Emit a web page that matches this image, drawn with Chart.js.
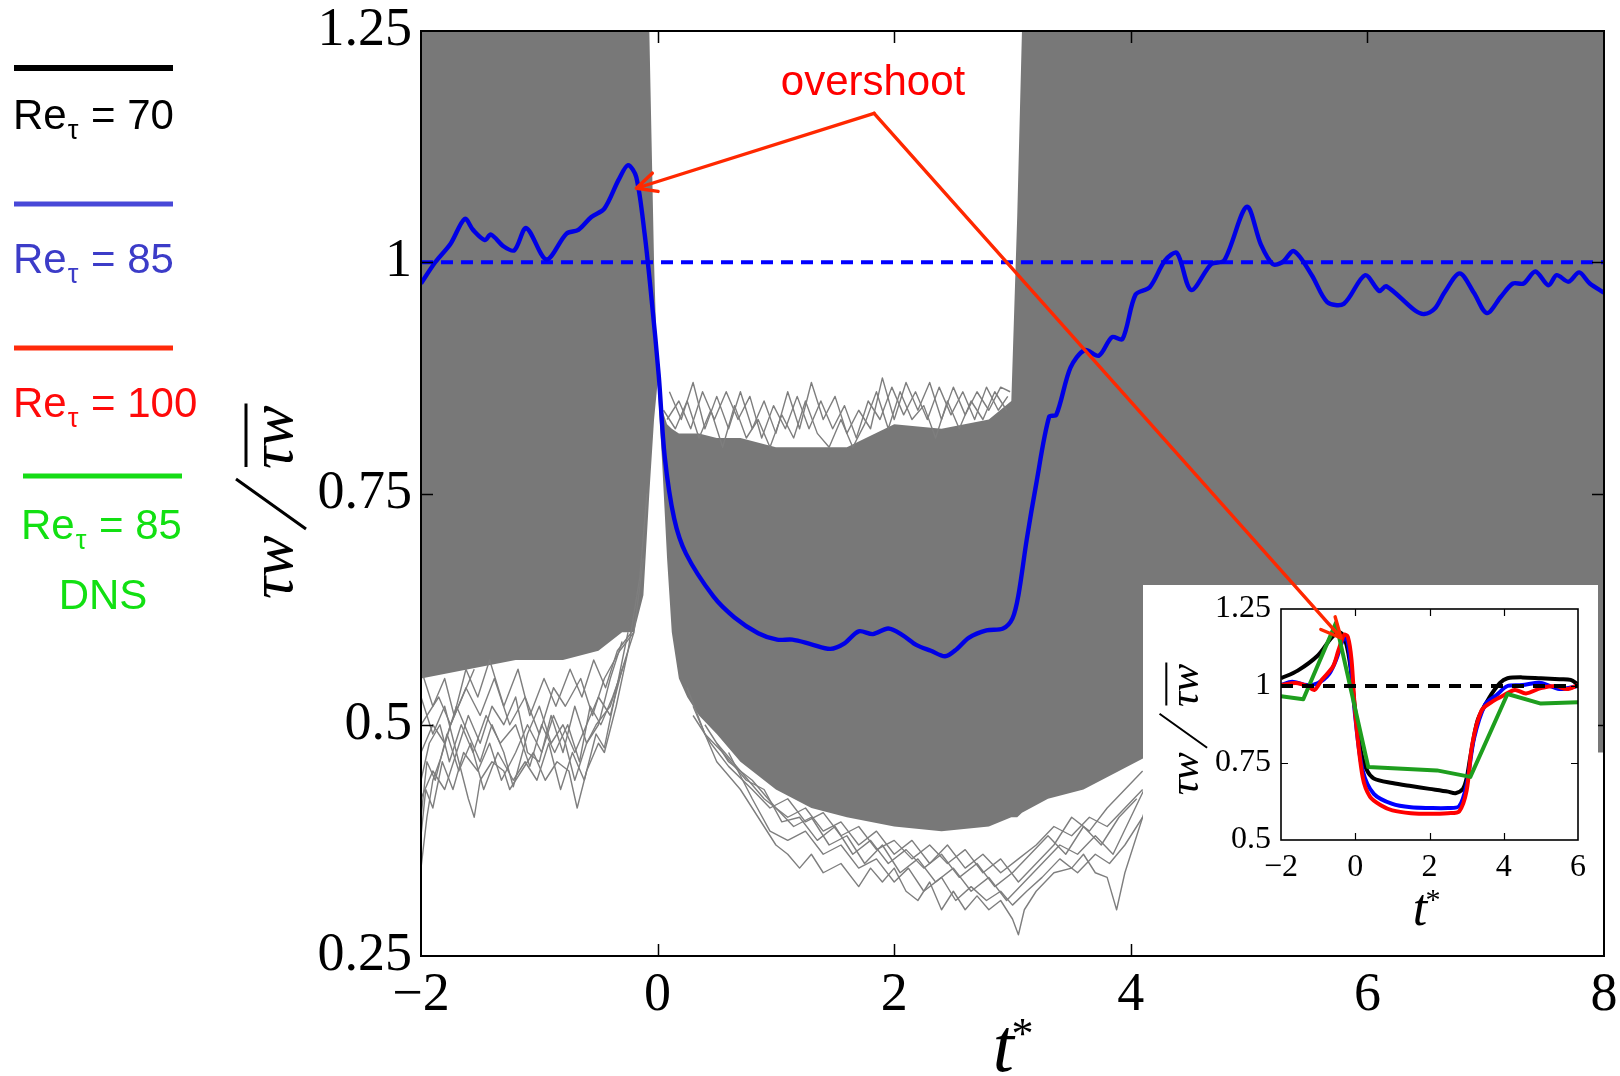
<!DOCTYPE html>
<html>
<head>
<meta charset="utf-8">
<script src="https://cdn.jsdelivr.net/npm/chart.js@4.4.1/dist/chart.umd.min.js"></script>
<style>
  body { margin: 0; background: #fff; }
  #wrap { position: relative; width: 1620px; height: 1076px; overflow: hidden; }
  #main, #notes { position: absolute; left: 0; top: 0; }
  #notes { pointer-events: none; }
  #insetBox { position: absolute; left: 1143px; top: 585px; width: 455px; height: 370px; background: #fff; }
</style>
</head>
<body>
<div id="wrap">
  <canvas id="main" width="1620" height="1076"></canvas>
  <div id="insetBox"><canvas id="inset" width="455" height="370"></canvas></div>
  <canvas id="notes" width="1620" height="1076"></canvas>
</div>
<script>
// ---- ensemble of realisations (gray): dense band envelope ----
const bandT  = [-2, -1.6, -1.2, -0.8, -0.5, -0.3, -0.2, -0.12, -0.07, -0.03, 0, 0.04, 0.08, 0.12, 0.18, 0.25, 0.35, 0.5, 0.7, 1.0, 1.3, 1.6, 2.0, 2.4, 2.8, 2.99, 3.04, 3.08, 3.3, 3.6, 3.9, 4.2, 5, 6, 7, 8];
const bandHi = [1.25, 1.25, 1.25, 1.25, 1.25, 1.25, 1.25, 1.25, 1.25, 1.0, 0.87, 0.84, 0.825, 0.82, 0.815, 0.815, 0.815, 0.81, 0.81, 0.80, 0.80, 0.80, 0.825, 0.82, 0.83, 0.85, 1.05, 1.25, 1.25, 1.25, 1.25, 1.25, 1.25, 1.25, 1.25, 1.25];
const bandLo = [0.55, 0.56, 0.57, 0.57, 0.58, 0.6, 0.6, 0.64, 0.75, 0.83, 0.87, 0.78, 0.68, 0.6, 0.55, 0.53, 0.51, 0.49, 0.46, 0.43, 0.41, 0.40, 0.39, 0.385, 0.39, 0.40, 0.40, 0.405, 0.42, 0.43, 0.45, 0.47, 0.47, 0.47, 0.47, 0.47];

// individual realisations poking out of the band
const fringeLeft = [
  [[-2, 0.345], [-1.95, 0.4], [-1.9, 0.44], [-1.83, 0.465], [-1.75, 0.5], [-1.65, 0.53], [-1.55, 0.56]],
  [[-2, 0.42], [-1.9, 0.45], [-1.8, 0.43], [-1.7, 0.47], [-1.6, 0.42], [-1.55, 0.40], [-1.5, 0.44], [-1.4, 0.46], [-1.3, 0.45], [-1.25, 0.43], [-1.15, 0.45], [-1.05, 0.47], [-0.95, 0.44], [-0.85, 0.46], [-0.75, 0.45], [-0.68, 0.41], [-0.6, 0.45], [-0.5, 0.48], [-0.45, 0.47], [-0.35, 0.52], [-0.25, 0.58], [-0.15, 0.66], [-0.09, 0.75]],
  [[-2, 0.47], [-1.9, 0.5], [-1.8, 0.48], [-1.7, 0.52], [-1.6, 0.49], [-1.5, 0.46], [-1.4, 0.5], [-1.3, 0.47], [-1.22, 0.433], [-1.1, 0.49], [-1.0, 0.52], [-0.9, 0.48], [-0.8, 0.5], [-0.7, 0.47], [-0.6, 0.5], [-0.5, 0.53], [-0.4, 0.51], [-0.3, 0.56], [-0.2, 0.6], [-0.12, 0.68]],
  [[-2, 0.5], [-1.85, 0.53], [-1.75, 0.5], [-1.62, 0.54], [-1.5, 0.51], [-1.38, 0.55], [-1.25, 0.5], [-1.12, 0.53], [-1.0, 0.49], [-0.88, 0.54], [-0.78, 0.52], [-0.65, 0.55], [-0.55, 0.51], [-0.45, 0.55], [-0.32, 0.58], [-0.2, 0.6]],
  [[-2, 0.40], [-1.95, 0.46], [-1.88, 0.44], [-1.78, 0.49], [-1.68, 0.45], [-1.58, 0.48], [-1.47, 0.43], [-1.35, 0.47], [-1.22, 0.44], [-1.12, 0.46], [-1.02, 0.44], [-0.92, 0.48], [-0.82, 0.43], [-0.72, 0.47], [-0.62, 0.44], [-0.52, 0.49], [-0.45, 0.475], [-0.33, 0.55], [-0.25, 0.6]],
  [[-2, 0.53], [-1.9, 0.49], [-1.8, 0.52], [-1.7, 0.47], [-1.6, 0.51], [-1.5, 0.48], [-1.4, 0.52], [-1.3, 0.5], [-1.2, 0.53], [-1.1, 0.47], [-1.0, 0.46], [-0.9, 0.51], [-0.8, 0.47], [-0.7, 0.52], [-0.6, 0.48], [-0.5, 0.5], [-0.4, 0.55], [-0.3, 0.59]],
  [[-2, 0.56], [-1.9, 0.52], [-1.8, 0.55], [-1.72, 0.51], [-1.62, 0.56], [-1.52, 0.53], [-1.42, 0.57], [-1.3, 0.52], [-1.18, 0.56], [-1.08, 0.51], [-0.96, 0.55], [-0.86, 0.52], [-0.74, 0.56], [-0.64, 0.53], [-0.54, 0.57], [-0.44, 0.54], [-0.34, 0.58], [-0.22, 0.6]],
  [[-2, 0.44], [-1.93, 0.48], [-1.84, 0.5], [-1.76, 0.46], [-1.66, 0.5], [-1.56, 0.47], [-1.45, 0.51], [-1.33, 0.48], [-1.2, 0.5], [-1.08, 0.455], [-0.98, 0.5], [-0.87, 0.47], [-0.76, 0.5], [-0.66, 0.46], [-0.57, 0.52], [-0.48, 0.5], [-0.38, 0.53], [-0.27, 0.57]],
  [[-2, 0.38], [-1.96, 0.43], [-1.9, 0.41], [-1.82, 0.46], [-1.73, 0.43], [-1.64, 0.47], [-1.52, 0.45], [-1.42, 0.48], [-1.32, 0.44], [-1.2, 0.47], [-1.1, 0.5], [-0.98, 0.47], [-0.88, 0.51], [-0.78, 0.48], [-0.7, 0.44], [-0.6, 0.48], [-0.52, 0.5], [-0.4, 0.52], [-0.3, 0.56]]
];
const fringeLow = [
  [[0.3, 0.52], [0.5, 0.46], [0.7, 0.43], [0.85, 0.40], [1.0, 0.37], [1.1, 0.36], [1.2, 0.345], [1.3, 0.36], [1.4, 0.34], [1.55, 0.35], [1.7, 0.325], [1.8, 0.345], [1.9, 0.33], [2.0, 0.345], [2.1, 0.32], [2.2, 0.31], [2.3, 0.33], [2.4, 0.30], [2.5, 0.32], [2.6, 0.30], [2.7, 0.315], [2.8, 0.30], [2.9, 0.31], [3.0, 0.29], [3.05, 0.273], [3.1, 0.30], [3.2, 0.32], [3.35, 0.34], [3.5, 0.345], [3.6, 0.36], [3.7, 0.34], [3.8, 0.335], [3.88, 0.30], [3.95, 0.34], [4.05, 0.38], [4.15, 0.42]],
  [[0.4, 0.5], [0.6, 0.46], [0.8, 0.44], [1.0, 0.41], [1.15, 0.39], [1.3, 0.40], [1.45, 0.37], [1.6, 0.38], [1.75, 0.35], [1.9, 0.37], [2.05, 0.34], [2.2, 0.355], [2.35, 0.33], [2.5, 0.345], [2.65, 0.32], [2.8, 0.335], [2.95, 0.31], [3.1, 0.33], [3.25, 0.35], [3.4, 0.37], [3.55, 0.36], [3.7, 0.38], [3.85, 0.36], [4.0, 0.40], [4.15, 0.44]],
  [[0.5, 0.48], [0.7, 0.45], [0.9, 0.42], [1.1, 0.40], [1.25, 0.41], [1.4, 0.385], [1.55, 0.395], [1.7, 0.37], [1.85, 0.385], [2.0, 0.36], [2.15, 0.375], [2.3, 0.35], [2.45, 0.37], [2.6, 0.345], [2.75, 0.36], [2.9, 0.34], [3.05, 0.355], [3.2, 0.37], [3.35, 0.39], [3.5, 0.38], [3.65, 0.40], [3.8, 0.39], [3.95, 0.41], [4.1, 0.43]],
  [[0.25, 0.54], [0.4, 0.49], [0.55, 0.47], [0.75, 0.44], [0.9, 0.43], [1.05, 0.395], [1.2, 0.40], [1.35, 0.375], [1.5, 0.39], [1.65, 0.36], [1.8, 0.375], [1.95, 0.35], [2.1, 0.365], [2.25, 0.345], [2.4, 0.36], [2.55, 0.335], [2.7, 0.35], [2.85, 0.325], [3.0, 0.34], [3.15, 0.36], [3.3, 0.38], [3.45, 0.36], [3.6, 0.39], [3.75, 0.37], [3.9, 0.4], [4.05, 0.42]],
  [[0.3, 0.51], [0.45, 0.48], [0.6, 0.455], [0.8, 0.43], [0.95, 0.41], [1.1, 0.42], [1.25, 0.395], [1.4, 0.405], [1.55, 0.38], [1.7, 0.39], [1.85, 0.365], [2.0, 0.375], [2.15, 0.355], [2.3, 0.37], [2.45, 0.35], [2.6, 0.365], [2.75, 0.34], [2.9, 0.355], [3.05, 0.33], [3.2, 0.35], [3.35, 0.37], [3.5, 0.4], [3.65, 0.385], [3.8, 0.41], [3.95, 0.43], [4.1, 0.45]],
  [[0.6, 0.47], [0.8, 0.42], [0.95, 0.385], [1.1, 0.375], [1.25, 0.385], [1.4, 0.36], [1.55, 0.37], [1.7, 0.345], [1.85, 0.355], [2.0, 0.33], [2.12, 0.345], [2.25, 0.32], [2.4, 0.335], [2.52, 0.31], [2.65, 0.325], [2.78, 0.31], [2.9, 0.32], [3.0, 0.305], [3.12, 0.32], [3.25, 0.335], [3.4, 0.355], [3.55, 0.34], [3.7, 0.36], [3.82, 0.35], [3.95, 0.37], [4.1, 0.4]]
];
const fringeHigh = [
  [[0.05, 0.84], [0.15, 0.82], [0.25, 0.85], [0.35, 0.81], [0.45, 0.84], [0.55, 0.80], [0.65, 0.845], [0.75, 0.81], [0.85, 0.83], [0.95, 0.80], [1.05, 0.835], [1.15, 0.81], [1.25, 0.85], [1.35, 0.815], [1.45, 0.80], [1.55, 0.83], [1.65, 0.80], [1.75, 0.825], [1.85, 0.86], [1.95, 0.82], [2.05, 0.86], [2.15, 0.83], [2.25, 0.845], [2.35, 0.81], [2.45, 0.85], [2.55, 0.82], [2.65, 0.85], [2.75, 0.83], [2.85, 0.86], [2.95, 0.84]],
  [[0.1, 0.86], [0.2, 0.83], [0.3, 0.87], [0.4, 0.82], [0.5, 0.855], [0.6, 0.82], [0.7, 0.86], [0.8, 0.82], [0.9, 0.85], [1.0, 0.815], [1.1, 0.86], [1.2, 0.82], [1.3, 0.87], [1.4, 0.83], [1.5, 0.855], [1.6, 0.815], [1.7, 0.84], [1.8, 0.82], [1.9, 0.875], [2.0, 0.83], [2.1, 0.87], [2.2, 0.84], [2.3, 0.87], [2.4, 0.83], [2.5, 0.865], [2.6, 0.835], [2.7, 0.86], [2.8, 0.84], [2.9, 0.865], [2.98, 0.86]],
  [[0.08, 0.83], [0.18, 0.85], [0.28, 0.82], [0.38, 0.86], [0.48, 0.83], [0.58, 0.86], [0.68, 0.83], [0.78, 0.855], [0.88, 0.81], [0.98, 0.845], [1.08, 0.82], [1.18, 0.855], [1.28, 0.82], [1.38, 0.85], [1.48, 0.82], [1.58, 0.845], [1.68, 0.81], [1.78, 0.85], [1.88, 0.83], [1.98, 0.865], [2.08, 0.835], [2.18, 0.86], [2.28, 0.83], [2.38, 0.865], [2.48, 0.835], [2.58, 0.86], [2.68, 0.83], [2.78, 0.865], [2.88, 0.84], [2.96, 0.855]]
];

// ---- ensemble average, Re_tau = 85 ----
const meanT = [-2.0, -1.88, -1.75, -1.63, -1.56, -1.46, -1.41, -1.30, -1.21, -1.11, -0.94, -0.77, -0.67, -0.56, -0.45, -0.33, -0.25, -0.18, -0.11, -0.05, 0.01, 0.06, 0.14, 0.24, 0.47, 0.65, 0.85, 1.01, 1.14, 1.30, 1.46, 1.58, 1.70, 1.82, 1.95, 2.07, 2.19, 2.31, 2.43, 2.53, 2.63, 2.78, 2.92, 3.0, 3.05, 3.12, 3.2, 3.31, 3.37, 3.49, 3.61, 3.73, 3.84, 3.93, 4.04, 4.16, 4.29, 4.39, 4.51, 4.68, 4.79, 4.98, 5.10, 5.20, 5.28, 5.38, 5.53, 5.66, 5.80, 5.98, 6.10, 6.16, 6.40, 6.48, 6.57, 6.65, 6.78, 6.90, 7.01, 7.13, 7.23, 7.32, 7.42, 7.53, 7.60, 7.70, 7.79, 7.88, 8.0];
const meanV = [0.977, 1.0, 1.02, 1.047, 1.035, 1.024, 1.03, 1.017, 1.013, 1.037, 1.003, 1.031, 1.035, 1.049, 1.058, 1.089, 1.105, 1.092, 1.031, 0.959, 0.877, 0.79, 0.723, 0.685, 0.639, 0.616, 0.599, 0.592, 0.592, 0.587, 0.582, 0.588, 0.601, 0.598, 0.604, 0.597, 0.586, 0.580, 0.574, 0.582, 0.594, 0.602, 0.604, 0.615, 0.64, 0.70, 0.76, 0.833, 0.835, 0.886, 0.905, 0.899, 0.919, 0.917, 0.965, 0.973, 1.002, 1.010, 0.970, 0.998, 1.002, 1.060, 1.019, 0.998, 1.0, 1.012, 0.986, 0.957, 0.955, 0.986, 0.969, 0.974, 0.948, 0.944, 0.950, 0.967, 0.988, 0.967, 0.945, 0.963, 0.977, 0.977, 0.990, 0.975, 0.986, 0.979, 0.989, 0.977, 0.967];
const refLevel = 1.0;

// ---- inset: averages for the three Re_tau and DNS ----
const re70T = [-2, -1.55, -1.0, -0.65, -0.45, -0.3, -0.15, 0, 0.15, 0.3, 0.5, 1, 1.5, 2, 2.5, 2.7, 2.9, 3.0, 3.1, 3.3, 3.6, 3.9, 4.1, 4.5, 5, 5.5, 5.8, 6];
const re70V = [1.025, 1.05, 1.10, 1.155, 1.175, 1.16, 1.08, 0.92, 0.79, 0.73, 0.70, 0.685, 0.675, 0.666, 0.657, 0.652, 0.666, 0.70, 0.77, 0.89, 0.96, 1.01, 1.025, 1.028, 1.025, 1.022, 1.02, 1.005];
const re85T = [-2, -1.7, -1.3, -1.0, -0.7, -0.5, -0.35, -0.25, -0.15, 0, 0.2, 0.5, 1, 1.5, 2, 2.5, 2.8, 3.0, 3.2, 3.5, 3.8, 4.1, 4.5, 5, 5.5, 6];
const re85V = [1.003, 1.014, 1.003, 1.01, 1.04, 1.09, 1.145, 1.16, 1.10, 0.90, 0.726, 0.65, 0.617, 0.606, 0.604, 0.604, 0.61, 0.68, 0.83, 0.94, 0.97, 1.0, 1.003, 1.01, 0.99, 1.0];
const re100T = [-2, -1.6, -1.3, -1.1, -0.9, -0.6, -0.45, -0.3, -0.2, -0.1, 0, 0.2, 0.4, 0.7, 1, 1.5, 2, 2.5, 2.8, 3.0, 3.15, 3.4, 3.7, 4, 4.3, 4.6, 5, 5.4, 5.7, 6];
const re100V = [1.003, 1.01, 1.0, 0.987, 1.02, 1.063, 1.117, 1.166, 1.16, 1.085, 0.91, 0.704, 0.64, 0.612, 0.596, 0.587, 0.585, 0.587, 0.593, 0.66, 0.81, 0.92, 0.95, 0.97, 0.987, 0.976, 0.993, 1.0, 0.99, 1.003];
const dnsT = [-2, -1.4, -0.52, 0.35, 2.2, 3.1, 4.1, 5.0, 6];
const dnsV = [0.967, 0.957, 1.205, 0.737, 0.726, 0.705, 0.974, 0.943, 0.947];

const mainXTicks = [-2, 0, 2, 4, 6, 8];
const mainYTicks = [0.25, 0.5, 0.75, 1, 1.25];
const insetXTicks = [-2, 0, 2, 4, 6];
const insetYTicks = [0.5, 0.75, 1, 1.25];

const legendItems = [
  { num: '70', line: '#000000', text: '#000000' },
  { num: '85', line: '#4848d8', text: '#3c3cc8' },
  { num: '100', line: '#ff2a0a', text: '#ff0a0a' },
  { num: '85', line: '#16dc16', text: '#12e012', extra: 'DNS' }
];

const GRAY = 'rgb(120,120,120)';
const SERIF = '"Liberation Serif", "Times New Roman", serif';
const SANS = '"Liberation Sans", Arial, sans-serif';

function xy(ts, vs) { return ts.map((t, i) => ({ x: t, y: vs[i] })); }
function pts(p) { return p.map(([x, y]) => ({ x, y })); }
function minusLabel(v) { return v < 0 ? '\u2212' + Math.abs(v) : String(v); }

function lineSet(data, color, width, extra) {
  return Object.assign({
    data: data, borderColor: color, borderWidth: width, pointRadius: 0,
    fill: false, tension: 0, borderJoinStyle: 'round'
  }, extra || {});
}

// box frame + inward ticks like a MATLAB axes
const frameTicks = {
  id: 'frameTicks',
  afterDatasetsDraw(chart, args, opts) {
    const { ctx, chartArea: a } = chart;
    const sx = chart.scales.x, sy = chart.scales.y;
    ctx.save();
    ctx.strokeStyle = '#000';
    ctx.lineWidth = opts.width;
    ctx.strokeRect(a.left, a.top, a.right - a.left, a.bottom - a.top);
    ctx.beginPath();
    opts.xTicks.forEach(v => {
      const px = Math.round(sx.getPixelForValue(v)) + 0.5;
      ctx.moveTo(px, a.bottom); ctx.lineTo(px, a.bottom - opts.len);
      ctx.moveTo(px, a.top); ctx.lineTo(px, a.top + opts.len);
    });
    opts.yTicks.forEach(v => {
      const py = Math.round(sy.getPixelForValue(v)) + 0.5;
      ctx.moveTo(a.left, py); ctx.lineTo(a.left + opts.len, py);
      ctx.moveTo(a.right, py); ctx.lineTo(a.right - opts.len, py);
    });
    ctx.lineWidth = opts.width * 0.75;
    ctx.stroke();
    ctx.restore();
  }
};

// tau_w / overline(tau_w), rotated
function drawTauLabel(ctx, cx, cy, s) {
  ctx.save();
  ctx.translate(cx, cy);
  ctx.rotate(-Math.PI / 2);
  ctx.fillStyle = '#000';
  ctx.strokeStyle = '#000';
  ctx.font = 'italic ' + (62 * s) + 'px ' + SERIF;
  ctx.textAlign = 'left';
  ctx.textBaseline = 'alphabetic';
  const w = ctx.measureText('\u03c4w').width;
  ctx.fillText('\u03c4w', -102 * s, 20 * s);
  ctx.fillText('\u03c4w', 28 * s, 20 * s);
  ctx.lineWidth = 3 * s;
  ctx.beginPath();
  ctx.moveTo(-32 * s, 34 * s); ctx.lineTo(18 * s, -36 * s);
  ctx.moveTo(30 * s, -26 * s); ctx.lineTo(30 * s + w, -26 * s);
  ctx.stroke();
  ctx.restore();
}

// t^*
function drawTStar(ctx, cx, base, size) {
  ctx.save();
  ctx.fillStyle = '#000';
  ctx.textBaseline = 'alphabetic';
  ctx.font = 'italic ' + size + 'px ' + SERIF;
  ctx.textAlign = 'right';
  ctx.fillText('t', cx + size * 0.07, base);
  ctx.font = (size * 0.58) + 'px ' + SERIF;
  ctx.textAlign = 'left';
  ctx.fillText('*', cx + size * 0.04, base - size * 0.3);
  ctx.restore();
}

function drawRe(ctx, x, base, num, color) {
  ctx.fillStyle = color;
  ctx.textAlign = 'left';
  ctx.textBaseline = 'alphabetic';
  ctx.font = '42px ' + SANS;
  ctx.fillText('Re', x, base);
  let w = ctx.measureText('Re').width;
  ctx.font = '27px ' + SANS;
  ctx.fillText('\u03c4', x + w + 1, base + 10);
  w += ctx.measureText('\u03c4').width + 2;
  ctx.font = '42px ' + SANS;
  ctx.fillText(' = ' + num, x + w, base);
}

const mainDecor = {
  id: 'mainDecor',
  afterDraw(chart) {
    const { ctx, chartArea: a } = chart;
    drawTauLabel(ctx, 272, 497, 1);
    drawTStar(ctx, (a.left + a.right) / 2 - 4, 1071, 76);

    // legend column on the left
    const lineY = [68, 204, 348, 476];
    const textY = [129, 273, 417, 539];
    ctx.save();
    legendItems.forEach((it, i) => {
      const x0 = i === 3 ? 23 : 14;
      ctx.fillStyle = it.line;
      ctx.fillRect(x0, lineY[i] - (i === 0 ? 3 : 2.5), 159, i === 0 ? 6 : 5);
      drawRe(ctx, i === 3 ? 21 : 13, textY[i], it.num, it.text);
      if (it.extra) {
        ctx.font = '42px ' + SANS;
        ctx.textAlign = 'center';
        ctx.fillText(it.extra, 103, 609);
      }
    });
    ctx.restore();
  }
};

const insetDecor = {
  id: 'insetDecor',
  afterDraw(chart) {
    const { ctx, chartArea: a } = chart;
    drawTauLabel(ctx, 41, 141, 0.68);
    drawTStar(ctx, (a.left + a.right) / 2 - 6, 340, 52);
  }
};

function axisOpts(min, max, step, font, pad, fit, fmt) {
  return {
    type: 'linear', min: min, max: max,
    grid: { display: false, drawTicks: false },
    border: { display: false },
    ticks: { stepSize: step, font: { family: SERIF, size: font, lineHeight: 1 }, color: '#000', padding: pad, callback: fmt },
    afterFit: fit
  };
}

// fixed axis boxes so the plot area lands where the frame is wanted
function fitX(h) { return s => { s.height = h; s.paddingLeft = 0; s.paddingRight = 0; }; }
function fitY(w) { return s => { s.width = w; s.paddingTop = 0; s.paddingBottom = 0; }; }

const mainDatasets = [
  lineSet(xy(meanT, meanV), '#0000e6', 4.4, { tension: 0.3, order: 1 }),
  lineSet(xy([-2, 8], [refLevel, refLevel]), '#0000ff', 4, { borderDash: [12, 8], order: 2 })
];
fringeHigh.concat(fringeLeft, fringeLow).forEach(p => {
  mainDatasets.push(lineSet(pts(p), 'rgb(126,126,126)', 1.4, { order: 5 }));
});
mainDatasets.push(lineSet(xy(bandT, bandHi), GRAY, 0, { fill: '+1', backgroundColor: GRAY, order: 10 }));
mainDatasets.push(lineSet(xy(bandT, bandLo), GRAY, 0, { order: 10 }));

const mainChart = new Chart(document.getElementById('main'), {
  type: 'line',
  data: { datasets: mainDatasets },
  options: {
    responsive: false, animation: false, devicePixelRatio: 1, events: [],
    layout: { padding: { top: 31, right: 16, left: 0, bottom: 0 } },
    scales: {
      x: axisOpts(-2, 8, 2, 54, 13, fitX(120), minusLabel),
      y: axisOpts(0.25, 1.25, 0.25, 54, 9, fitY(421))
    },
    plugins: {
      legend: { display: false }, tooltip: { enabled: false },
      frameTicks: { width: 2, len: 12, xTicks: mainXTicks.slice(1, -1), yTicks: mainYTicks.slice(1, -1) }
    }
  },
  plugins: [frameTicks, mainDecor]
});

const insetChart = new Chart(document.getElementById('inset'), {
  type: 'line',
  data: {
    datasets: [
      lineSet(xy([-2, 6], [refLevel, refLevel]), '#000', 4, { borderDash: [12, 9], order: 0 }),
      lineSet(xy(dnsT, dnsV), '#1e9e1e', 4, { order: 1 }),
      lineSet(xy(re100T, re100V), '#ff0000', 4, { tension: 0.3, order: 2 }),
      lineSet(xy(re85T, re85V), '#0000ff', 4, { tension: 0.3, order: 3 }),
      lineSet(xy(re70T, re70V), '#000000', 4, { tension: 0.3, order: 4 })
    ]
  },
  options: {
    responsive: false, animation: false, devicePixelRatio: 1, events: [],
    layout: { padding: { top: 24, right: 20, left: 0, bottom: 0 } },
    scales: {
      x: axisOpts(-2, 6, 2, 32, 12, fitX(115), minusLabel),
      y: axisOpts(0.5, 1.25, 0.25, 32, 10, fitY(138))
    },
    plugins: {
      legend: { display: false }, tooltip: { enabled: false },
      frameTicks: { width: 1.6, len: 7, xTicks: insetXTicks.slice(1, -1), yTicks: insetYTicks.slice(1, -1) }
    }
  },
  plugins: [frameTicks, insetDecor]
});

// "overshoot" note with its two arrows, on top of both axes
function arrow(ctx, from, to) {
  ctx.beginPath();
  ctx.moveTo(from[0], from[1]);
  ctx.lineTo(to[0], to[1]);
  const ang = Math.atan2(to[1] - from[1], to[0] - from[0]);
  [0.45, -0.45].forEach(d => {
    ctx.moveTo(to[0], to[1]);
    ctx.lineTo(to[0] - 22 * Math.cos(ang + d), to[1] - 22 * Math.sin(ang + d));
  });
  ctx.stroke();
}

function drawNotes() {
  const ctx = document.getElementById('notes').getContext('2d');
  const box = document.getElementById('insetBox');
  const mx = mainChart.scales.x, my = mainChart.scales.y;
  const ix = insetChart.scales.x, iy = insetChart.scales.y;
  const fork = [mx.getPixelForValue(1.83), my.getPixelForValue(1.161)];
  const tip1 = [mx.getPixelForValue(-0.18), my.getPixelForValue(1.08)];
  const tip2 = [box.offsetLeft + ix.getPixelForValue(-0.38), box.offsetTop + iy.getPixelForValue(1.156)];
  ctx.strokeStyle = 'rgb(255,40,0)';
  ctx.lineWidth = 3.4;
  ctx.lineCap = 'round';
  arrow(ctx, fork, tip1);
  arrow(ctx, fork, tip2);
  ctx.fillStyle = '#ff0000';
  ctx.font = '42px ' + SANS;
  ctx.textAlign = 'center';
  ctx.textBaseline = 'alphabetic';
  ctx.fillText('overshoot', 873, 95);
}
drawNotes();
</script>
</body>
</html>
